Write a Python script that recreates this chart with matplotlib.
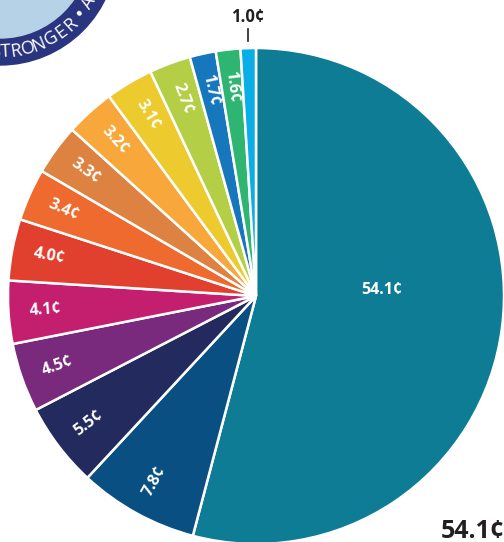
import numpy as np
import matplotlib
matplotlib.use("Agg")
import matplotlib.pyplot as plt
from matplotlib.patches import Circle

# cents per dollar, clockwise from 12 o'clock
values = [54.1, 7.8, 5.5, 4.5, 4.1, 4.0, 3.4, 3.3, 3.2, 3.1, 2.7, 1.7, 1.6, 1.0]
labels = ["54.1¢", "7.8¢", "5.5¢", "4.5¢", "4.1¢", "4.0¢", "3.4¢", "3.3¢",
          "3.2¢", "3.1¢", "2.7¢", "1.7¢", "1.6¢", "1.0¢"]
colors = ["#0f7c96", "#0a4f82", "#232b5e", "#7a2a7c", "#c41f6e", "#e2402f",
          "#ee6a2e", "#dd8241", "#f8a83b", "#edcb2e", "#b4cf45", "#1677bd",
          "#2db571", "#0aaee6"]
badge_chars = ["S", "T", "R", "O", "N", "G", "E", "R", "•", "A"]

FONT = "Open Sans"

# pixel geometry of the pie (center / radius)
CX, CY, R = 256, 296, 248
W, H = 504, 542


def px(x, y):
    return (x - CX) / R, (CY - y) / R


fig = plt.figure(figsize=(W / 100, H / 100), dpi=100)
ax = fig.add_axes([0, 0, 1, 1])

wedges, _ = ax.pie(values, colors=colors, startangle=90, counterclock=False,
                   radius=1.0, center=(0, 0),
                   wedgeprops=dict(edgecolor="white", linewidth=1.8))

# radial slice labels
total = sum(values)
cum = 0.0
for i, (v, lab) in enumerate(zip(values, labels)):
    mid = cum + v / 2
    cum += v
    ang = 90 - 360 * mid / total  # math angle, degrees
    if i == 0:
        x, y = px(382, 290)
        ax.text(x, y, lab, color="white", fontsize=11.5, fontweight="bold",
                family=FONT, ha="center", va="center")
        continue
    if lab == "1.0¢":
        continue
    rr = 0.85
    x, y = rr * np.cos(np.radians(ang)), rr * np.sin(np.radians(ang))
    rot = (ang % 360) - 180
    ax.text(x, y, lab, color="white", fontsize=11.5, fontweight="bold",
            family=FONT, ha="center", va="center", rotation=rot,
            rotation_mode="anchor")

# 1.0 callout above the pie
x, y = px(248, 17)
ax.text(x, y, "1.0¢", color="#231f20", fontsize=12, fontweight="bold",
        family=FONT, ha="center", va="center")
x0, y0 = px(248, 29)
x1, y1 = px(248, 41)
ax.plot([x0, x1], [y0, y1], color="#231f20", lw=1.2)

# big total label, bottom right
x, y = px(441, 531)
ax.text(x, y, "54.1¢", color="#231f20", fontsize=18, fontweight="bold",
        family=FONT, ha="left", va="center")

# badge in the top-left corner
bx, by = px(0, -52)
ax.add_patch(Circle((bx, by), 117 / R, color="#2a3580", zorder=5))
ax.add_patch(Circle((bx, by), 90 / R, color="#b5d2e6", zorder=6))
theta = [92.5, 86.7, 81.0, 74.5, 68.0, 60.8, 53.8, 47.0, 39.3, 31.4]
for ch, th in zip(badge_chars, theta):
    rr = 104 / R
    t = np.radians(-th)
    fs = 16 if ch == "•" else 13
    ax.text(bx + rr * np.cos(t), by + rr * np.sin(t), ch, color="white",
            fontsize=fs, family=FONT, ha="center", va="center",
            rotation=90 - th, rotation_mode="anchor", zorder=7)

xa, ya = px(0, H)
xb, yb = px(W, 0)
ax.set_xlim(xa, xb)
ax.set_ylim(ya, yb)
ax.set_aspect("auto")
ax.axis("off")

fig.savefig("out.png", dpi=100)
